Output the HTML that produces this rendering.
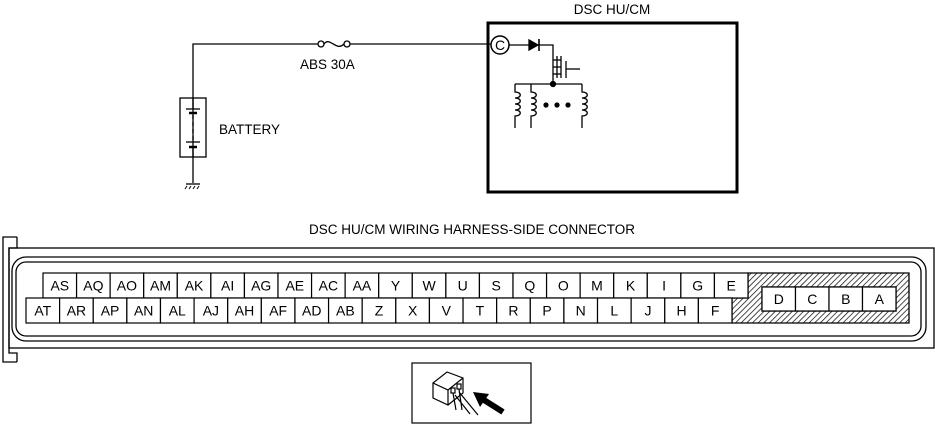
<!DOCTYPE html>
<html><head><meta charset="utf-8"><style>
html,body{margin:0;padding:0;background:#fff;}
svg{display:block;font-family:"Liberation Sans",sans-serif;}
</style></head><body>
<svg width="935" height="425" viewBox="0 0 935 425" xmlns="http://www.w3.org/2000/svg">
<defs>
<pattern id="h" width="4" height="4" patternUnits="userSpaceOnUse" patternTransform="rotate(45)">
<rect width="4" height="4" fill="#fff"/><line x1="0" y1="0" x2="0" y2="4" stroke="#000" stroke-width="1.4"/>
</pattern>
</defs>
<g fill="none" stroke="#000" stroke-width="1.3">
<polyline points="193,157 193,44 318,44"/>
<line x1="350" y1="44" x2="491" y2="44"/>
<circle cx="321" cy="44" r="3" fill="#fff"/>
<circle cx="347" cy="44" r="3" fill="#fff"/>
<path d="M324,44 C330,36 336,52 344,44"/>
<rect x="180" y="98" width="26" height="59"/>
<line x1="193" y1="157" x2="193" y2="183"/>
<line x1="186" y1="109" x2="200" y2="109"/>
<line x1="189" y1="113" x2="197" y2="113" stroke-width="2.5"/>
<line x1="193" y1="98" x2="193" y2="109"/>
<line x1="193" y1="115" x2="193" y2="140" stroke-dasharray="4,3"/>
<line x1="186" y1="142" x2="200" y2="142"/>
<line x1="189" y1="147" x2="197" y2="147" stroke-width="2.5"/>
<line x1="193" y1="147" x2="193" y2="157"/>
<line x1="186" y1="184" x2="200" y2="184"/>
<path d="M187,186 l-2,3 M191,186 l-2,3 M195,186 l-2,3 M199,186 l-2,3" stroke-width="1"/>
<rect x="488" y="23" width="249" height="169" stroke-width="3"/>
<circle cx="500" cy="45" r="9" fill="#fff" stroke-width="1.5"/>
<line x1="509" y1="45" x2="529" y2="45"/>
<polygon points="529,40 529,50 538,45" fill="#000"/>
<line x1="539" y1="39" x2="539" y2="51" stroke-width="1.6"/>
<polyline points="539,45 553,45 553,84"/>
<line x1="557" y1="56" x2="557" y2="78"/>
<line x1="561" y1="56" x2="561" y2="78"/>
<line x1="553" y1="60" x2="561" y2="60"/>
<line x1="553" y1="67" x2="561" y2="67"/>
<line x1="553" y1="74" x2="561" y2="74"/>
<line x1="566" y1="61" x2="566" y2="78"/>
<line x1="566" y1="69" x2="580" y2="69"/>
<line x1="515" y1="84" x2="582" y2="84"/>
<circle cx="553" cy="84" r="2.5" fill="#000"/>
<g id="coil">
<path d="M515,84 L515,92 C522,92 522,98 515,98 C522,98 522,104 515,104 C522,104 522,110 515,110 C522,110 522,116 515,116 L515,128"/>
</g>
<use href="#coil" x="16"/>
<use href="#coil" x="67"/>
</g>
<circle cx="546" cy="105" r="2.6"/><circle cx="557" cy="105" r="2.6"/><circle cx="568" cy="105" r="2.6"/>
<text x="500" y="50" font-size="14" text-anchor="middle">C</text>
<g font-size="13.5">
<text x="300" y="69">ABS 30A</text>
<text x="219" y="134">BATTERY</text>
<text x="612" y="14" text-anchor="middle">DSC  HU/CM</text>
<text x="472" y="234" text-anchor="middle">DSC HU/CM WIRING HARNESS-SIDE CONNECTOR</text>
</g>
<g fill="none" stroke="#000" stroke-width="1.3">
<polyline points="17,237 3,237 3,362 17,362"/>
<polyline points="17,237 17,248 9,248 9,353 17,353 17,362"/>
<rect x="9" y="248" width="925" height="100"/>
<rect x="12" y="257" width="914" height="84" rx="14"/>
<rect x="16" y="262" width="905" height="74" rx="10"/>
<polygon points="748,273 909,273 909,323 732,323 732,298 748,298" fill="url(#h)"/>
<rect x="762" y="287" width="134" height="24" fill="#fff"/>
</g>
<g font-size="14" text-anchor="middle" id="cells"></g>
<g stroke="#000" stroke-width="1.2" fill="none">
<rect x="412" y="363" width="119" height="60"/>
<path d="M433,383 L447,372 L463,378 L463,393 L448,405 L433,398 Z M433,383 L448,390 L463,378 M448,390 L448,405"/>
<rect x="451" y="388" width="4" height="5"/><rect x="457" y="384" width="4" height="5"/>
<path d="M453,393 L456,410 M459,389 L462,410 M455,395 L470,414 M459,392 L478,415"/>
<line x1="484" y1="400" x2="503" y2="412" stroke-width="6"/>
</g>
<polygon points="473,392 489,394 480,407" fill="#000"/>
<script>
(function(){
var g=document.getElementById('cells');var ns='http://www.w3.org/2000/svg';
function cell(x,y,w,h,t){var r=document.createElementNS(ns,'rect');r.setAttribute('x',x);r.setAttribute('y',y);r.setAttribute('width',w);r.setAttribute('height',h);r.setAttribute('fill','#fff');r.setAttribute('stroke','#000');r.setAttribute('stroke-width','1.2');g.appendChild(r);
var s=document.createElementNS(ns,'text');s.setAttribute('x',x+w/2);s.setAttribute('y',y+h/2+5);s.textContent=t;g.appendChild(s);}
var top=['AS','AQ','AO','AM','AK','AI','AG','AE','AC','AA','Y','W','U','S','Q','O','M','K','I','G','E'];
var bot=['AT','AR','AP','AN','AL','AJ','AH','AF','AD','AB','Z','X','V','T','R','P','N','L','J','H','F'];
var w=(748-43)/21;top.forEach(function(t,i){cell(43+i*w,273,w,25,t);});
var w2=(732-26)/21;bot.forEach(function(t,i){cell(26+i*w2,298,w2,25,t);});
['D','C','B','A'].forEach(function(t,i){cell(762+i*33.5,287,33.5,24,t);});
})();
</script>
</svg>
</body></html>
